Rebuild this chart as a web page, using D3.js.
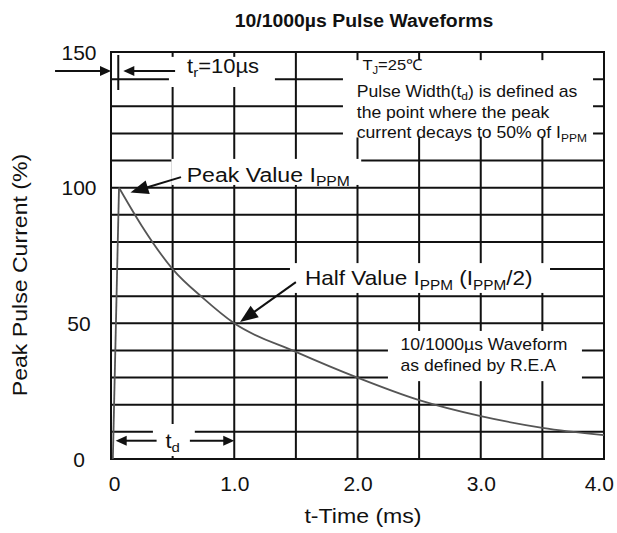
<!DOCTYPE html>
<html>
<head>
<meta charset="utf-8">
<script src="https://cdn.jsdelivr.net/npm/d3@7/dist/d3.min.js"></script>
<style>
  html, body { margin: 0; padding: 0; background: #fff; }
  svg { display: block; }
</style>
</head>
<body>
<svg id="chart" width="617" height="533"></svg>
<script>
// ---------------- DATA ----------------
const timeMs = [0.015, 0.065, 0.25, 0.5, 0.75, 1.0, 1.5, 2.0, 2.5, 3.0, 3.5, 4.0];
const currentPct = [0, 100, 85.9, 70, 59.2, 50, 39.5, 30, 21.7, 15.8, 11.5, 8.8];
const xTickValues = [0, 1, 2, 3, 4];
const xTickLabels = ["0", "1.0", "2.0", "3.0", "4.0"];
const yTickValues = [0, 50, 100, 150];
const yTickLabels = ["0", "50", "100", "150"];
const gridX = [0.5, 1, 1.5, 2, 2.5, 3, 3.5];
const gridY = [10, 20, 30, 40, 50, 60, 70, 80, 90, 100, 110, 120, 130, 140];
const titleText = "10/1000\u00b5s Pulse Waveforms";
const xTitle = "t-Time (ms)";
const yTitle = "Peak Pulse Current (%)";
const infoLines = [
  [{t: "T"}, {t: "J", sub: true}, {t: "=25\u2103"}],
  [{t: "Pulse Width(t"}, {t: "d", sub: true}, {t: ") is defined as"}],
  [{t: "the point where the peak"}],
  [{t: "current decays to 50% of I"}, {t: "PPM", sub: true}]
];
const waveLines = ["10/1000\u00b5s Waveform", "as defined by R.E.A"];

// ---------------- LAYOUT ----------------
const svg = d3.select("#chart");
const FONT = "'Liberation Sans', Arial, Helvetica, sans-serif";
const SX = 1.1;
const x = d3.scaleLinear().domain([0, 4]).range([111, 604]);
const y = d3.scaleLinear().domain([0, 150]).range([459, 52]);

function label(parent, px, py, segs, size, anchor, weight, sx) {
  const t = parent.append("text")
    .attr("transform", `translate(${px},${py}) scale(${sx || SX},1)`)
    .attr("font-family", FONT)
    .attr("font-size", size)
    .attr("font-weight", weight || "normal")
    .attr("text-anchor", anchor || "start")
    .attr("fill", "#111");
  let shifted = false;
  const drop = size * 0.22;
  segs.forEach(s => {
    const ts = t.append("tspan").text(s.t);
    if (s.sub) {
      ts.attr("font-size", size * 0.68);
      if (!shifted) ts.attr("dy", drop);
      shifted = true;
    } else {
      if (shifted) ts.attr("dy", -drop);
      shifted = false;
    }
  });
  return t;
}

function arrow(parent, tail, tip, len, half, width) {
  const x1 = x(tail[0]), y1 = y(tail[1]), x2 = x(tip[0]), y2 = y(tip[1]);
  const dx = x2 - x1, dy = y2 - y1, d = Math.hypot(dx, dy);
  const ux = dx / d, uy = dy / d;
  const bx = x2 - ux * len, by = y2 - uy * len;
  parent.append("line")
    .attr("x1", x1).attr("y1", y1).attr("x2", bx + ux * 1).attr("y2", by + uy * 1)
    .attr("stroke", "#111").attr("stroke-width", width || 2);
  parent.append("polygon")
    .attr("points", [[x2, y2], [bx - uy * half, by + ux * half], [bx + uy * half, by - ux * half]].map(p => p.join(",")).join(" "))
    .attr("fill", "#111");
}

// Grid
const grid = svg.append("g");
grid.selectAll("line.h").data(gridY).join("line")
  .attr("x1", x(0)).attr("x2", x(4)).attr("y1", d => y(d)).attr("y2", d => y(d))
  .attr("stroke", "#111").attr("stroke-width", 2);
grid.selectAll("line.v").data(gridX).join("line")
  .attr("x1", d => x(d)).attr("x2", d => x(d)).attr("y1", y(0)).attr("y2", y(150))
  .attr("stroke", "#111").attr("stroke-width", 2);

// White backgrounds behind annotation text (data-space boxes)
const masks = [
  [0.47, 1.33, 137.1, 148.2],
  [0.49, 2.03, 101, 110.6],
  [1.452, 3.562, 61.2, 72.2],
  [2.247, 3.821, 28.7, 47.2],
  [1.882, 3.911, 118.5, 147],
  [0.34, 0.68, 1.1, 12.9]
];
svg.append("g").selectAll("rect").data(masks).join("rect")
  .attr("x", d => x(d[0])).attr("width", d => x(d[1]) - x(d[0]))
  .attr("y", d => y(d[3])).attr("height", d => y(d[2]) - y(d[3]))
  .attr("fill", "#fff");

// Border
svg.append("rect")
  .attr("x", x(0)).attr("y", y(150)).attr("width", x(4) - x(0)).attr("height", y(0) - y(150))
  .attr("fill", "none").attr("stroke", "#111").attr("stroke-width", 2);

// Curve
const pts = timeMs.map((t, i) => [t, currentPct[i]]);
const lineLin = d3.line().x(d => x(d[0])).y(d => y(d[1]));
const lineMono = d3.line().x(d => x(d[0])).y(d => y(d[1])).curve(d3.curveMonotoneX);
svg.append("path").attr("d", lineLin(pts.slice(0, 2)))
  .attr("fill", "none").attr("stroke", "#555").attr("stroke-width", 1.8);
svg.append("path").attr("d", lineMono(pts.slice(1)))
  .attr("fill", "none").attr("stroke", "#555").attr("stroke-width", 1.8);

// Axes tick labels
const TSX = 1.05;
const yAxis = d3.axisLeft(y).tickValues(yTickValues).tickSize(0).tickFormat((d, i) => yTickLabels[i]);
const yg = svg.append("g").attr("transform", `translate(${79},0)`).call(yAxis);
yg.select(".domain").remove();
yg.selectAll(".tick text").attr("font-family", FONT).attr("font-size", 20).attr("fill", "#111")
  .attr("text-anchor", "middle").attr("x", 0).attr("dy", "0.36em")
  .attr("transform", `scale(${TSX},1)`);

const xAxis = d3.axisBottom(x).tickValues(xTickValues).tickSize(0).tickFormat((d, i) => xTickLabels[i]);
const xg = svg.append("g").attr("transform", `translate(0,${476})`).call(xAxis);
xg.select(".domain").remove();
const nX = xTickValues.length;
xg.selectAll(".tick text").attr("font-family", FONT).attr("font-size", 20).attr("fill", "#111")
  .attr("y", 0).attr("dy", "0.75em").attr("transform", `scale(${TSX},1)`)
  .attr("dx", (d, i) => i === 0 ? 3 : (i === nX - 1 ? -5 : 0));

// Titles
label(svg, 364, 27, [{t: titleText}], 18.5, "middle", "bold", 1.05);
label(svg, 363, 523, [{t: xTitle}], 21, "middle");
svg.append("text")
  .attr("transform", `translate(27,275) rotate(-90) scale(${SX},1)`)
  .attr("font-family", FONT).attr("font-size", 21).attr("text-anchor", "middle").attr("fill", "#111")
  .text(yTitle);

// Annotations
const ann = svg.append("g");
// t_r markers
arrow(ann, [-0.454, 143], [0, 143], 11, 5, 2);
arrow(ann, [0.52, 143], [0.1, 143], 11, 5, 2);
ann.append("line").attr("x1", x(0.059)).attr("x2", x(0.059)).attr("y1", y(148.9)).attr("y2", y(136))
  .attr("stroke", "#111").attr("stroke-width", 2);
label(ann, x(0.617), y(142.3), [{t: "t"}, {t: "r", sub: true}, {t: "=10\u00b5s"}], 20);

// Peak value
arrow(ann, [0.568, 103.9], [0.158, 98.2], 18, 7, 2);
label(ann, x(0.614), y(102.2), [{t: "Peak Value I"}, {t: "PPM", sub: true}], 21);

// Half value
arrow(ann, [1.50, 65.2], [1.047, 50.5], 18, 7, 2);
label(ann, x(1.574), y(64.1), [{t: "Half Value I"}, {t: "PPM", sub: true}, {t: " (I"}, {t: "PPM", sub: true}, {t: "/2)"}], 20.5);

// Info block
const infoV = [143.2, 133.5, 125.6, 118.2];
infoLines.forEach((segs, i) => {
  label(ann, x(i === 0 ? 2.04 : 1.994), y(infoV[i]), segs, i === 0 ? 15 : 16);
});

// Waveform block
const waveV = [40.2, 32.5];
waveLines.forEach((s, i) => label(ann, x(2.349), y(waveV[i]), [{t: s}], 16));

// t_d
arrow(ann, [0.37, 6.74], [0.038, 6.74], 11, 5, 2);
arrow(ann, [0.64, 6.74], [1.0, 6.74], 11, 5, 2);
label(ann, x(0.5), y(4.05), [{t: "t"}, {t: "d", sub: true}], 20, "middle");
</script>
</body>
</html>
